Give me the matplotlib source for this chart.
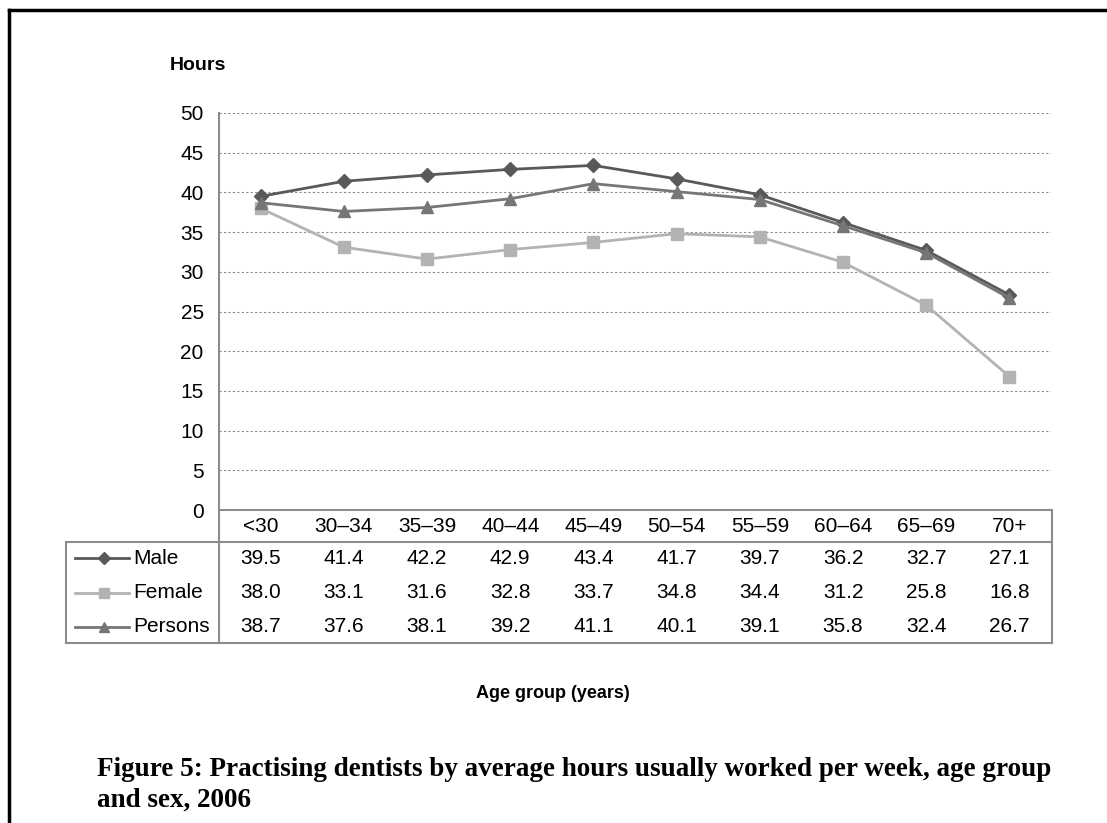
import matplotlib.pyplot as plt
from matplotlib.lines import Line2D
from matplotlib.transforms import blended_transform_factory

plt.rcParams['font.family'] = ['Liberation Sans', 'DejaVu Sans']

age_groups = ["<30", "30\u201334", "35\u201339", "40\u201344", "45\u201349",
              "50\u201354", "55\u201359", "60\u201364", "65\u201369", "70+"]
male = [39.5, 41.4, 42.2, 42.9, 43.4, 41.7, 39.7, 36.2, 32.7, 27.1]
female = [38.0, 33.1, 31.6, 32.8, 33.7, 34.8, 34.4, 31.2, 25.8, 16.8]
persons = [38.7, 37.6, 38.1, 39.2, 41.1, 40.1, 39.1, 35.8, 32.4, 26.7]

series = [
    ("Male", male, "#595959", "D", 7),
    ("Female", female, "#b3b3b3", "s", 8),
    ("Persons", persons, "#767676", "^", 8),
]

W, H = 1107, 823
FS = 15


def fx(px):
    return px / W


def fy(py):
    return 1 - py / H


fig = plt.figure(figsize=(W / 100, H / 100), dpi=100)

# outer frame (left and top only)
fig.add_artist(Line2D([fx(9), fx(9)], [fy(10), 0], color="black", lw=2.5))
fig.add_artist(Line2D([fx(9), 1], [fy(10), fy(10)], color="black", lw=2.5))

left, right, top, bottom = 219, 1051, 113, 510
ax = fig.add_axes([fx(left), fy(bottom), fx(right - left), (bottom - top) / H])

x = list(range(len(age_groups)))
for name, vals, col, mk, ms in series:
    ax.plot(x, vals, color=col, lw=2, marker=mk, markersize=ms, zorder=3)

ax.set_xlim(-0.5, len(age_groups) - 0.5)
ax.set_ylim(0, 50)
ax.set_yticks(range(0, 51, 5))
ax.set_xticks([])
ax.tick_params(axis="y", length=0, labelsize=FS, pad=11)
ax.grid(axis="y", linestyle=(0, (2, 2)), color="#8c8c8c", lw=0.8)
for s in ["top", "right"]:
    ax.spines[s].set_visible(False)
ax.spines["left"].set_color("#8c8c8c")
ax.spines["bottom"].set_color("#8c8c8c")
ax.spines["left"].set_linewidth(1.5)
ax.spines["bottom"].set_linewidth(1.5)

fig.text(fx(198), fy(65), "Hours", fontsize=14, fontweight="bold",
         ha="center", va="center")

# data table below the axis
tcol = "#8c8c8c"
row_top = 542
row_bot = 643
tab_left = 66
fig.add_artist(Line2D([fx(tab_left), fx(right + 1)], [fy(row_top), fy(row_top)], color=tcol, lw=1.5))
fig.add_artist(Line2D([fx(tab_left), fx(right + 1)], [fy(row_bot), fy(row_bot)], color=tcol, lw=1.5))
fig.add_artist(Line2D([fx(tab_left), fx(tab_left)], [fy(row_top), fy(row_bot)], color=tcol, lw=1.5))
fig.add_artist(Line2D([fx(left), fx(left)], [fy(bottom), fy(row_bot)], color=tcol, lw=1.5))
fig.add_artist(Line2D([fx(right + 1), fx(right + 1)], [fy(bottom), fy(row_bot)], color=tcol, lw=1.5))

trans = blended_transform_factory(ax.transData, fig.transFigure)
for i, lab in enumerate(age_groups):
    ax.text(i, fy(527), lab, transform=trans, ha="center", va="center",
            fontsize=FS, clip_on=False)

row_y = [558, 593, 627]
for (name, vals, col, mk, ms), ry in zip(series, row_y):
    for i, v in enumerate(vals):
        ax.text(i, fy(ry), f"{v:.1f}", transform=trans, ha="center", va="center",
                fontsize=FS, clip_on=False)
    fig.add_artist(Line2D([fx(75), fx(129)], [fy(ry), fy(ry)], color=col, lw=2))
    fig.add_artist(Line2D([fx(104)], [fy(ry)], color=col, marker=mk,
                          markersize=ms - 1, lw=0))
    fig.text(fx(133), fy(ry), name, ha="left", va="center", fontsize=FS)

fig.text(fx(553), fy(694), "Age group (years)", fontsize=13, fontweight="bold",
         ha="center", va="center")

serif = ["Liberation Serif", "DejaVu Serif"]
fig.text(fx(97), fy(770), "Figure 5: Practising dentists by average hours usually worked per week, age group",
         family=serif, fontsize=19.5, fontweight="bold", ha="left", va="center")
fig.text(fx(97), fy(800), "and sex, 2006",
         family=serif, fontsize=19.5, fontweight="bold", ha="left", va="center")

fig.savefig("out.png", dpi=100)
